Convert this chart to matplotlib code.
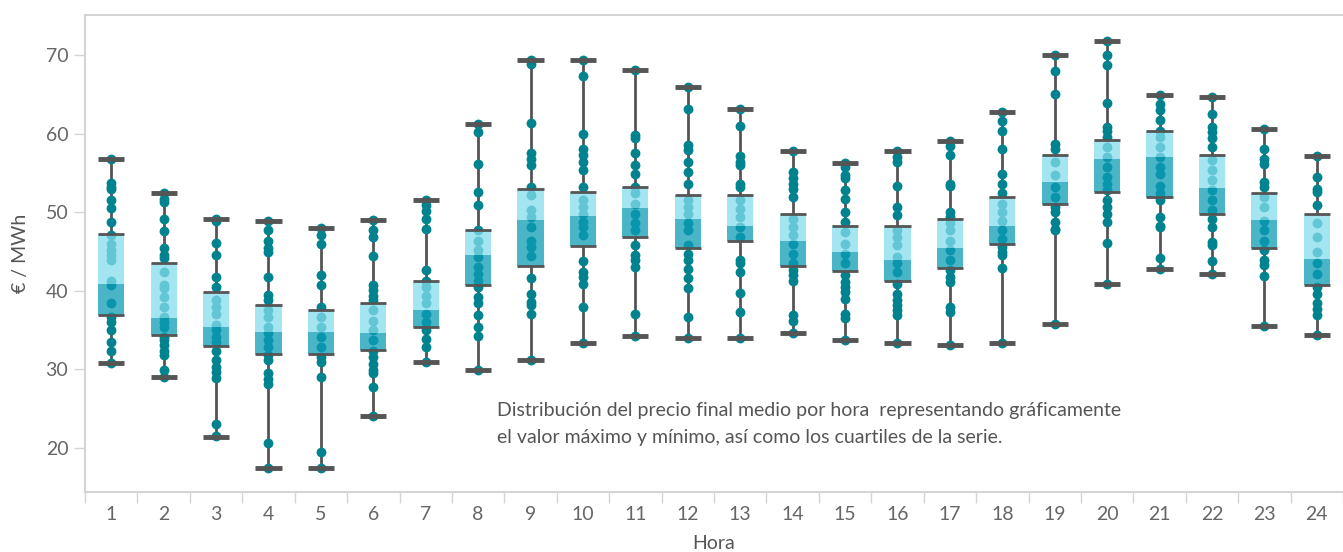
import numpy as np
import matplotlib.pyplot as plt

# ── Datos ───────────────────────────────────────────────────────────────────
horas = list(range(1, 25))

maximo = [56.8, 52.4, 49.2, 48.9, 48.0, 49.0, 51.5, 61.2, 69.4, 69.4, 68.1, 66.0,
          63.2, 57.8, 56.3, 57.8, 59.1, 62.8, 70.0, 71.8, 64.9, 64.7, 60.6, 57.1]
q3 = [47.2, 43.5, 39.8, 38.2, 37.5, 38.5, 41.2, 47.8, 53.0, 52.6, 53.2, 52.2,
      52.2, 49.8, 48.2, 48.2, 49.1, 52.0, 57.3, 59.2, 60.4, 57.3, 52.5, 49.8]
mediana = [40.9, 36.6, 35.4, 34.8, 34.8, 34.6, 37.6, 44.5, 49.0, 49.5, 50.5, 49.2,
           48.3, 46.3, 44.9, 43.9, 45.5, 48.2, 53.9, 56.8, 57.0, 53.1, 49.0, 44.1]
q1 = [36.9, 34.4, 33.0, 32.0, 32.0, 32.5, 35.4, 40.7, 43.2, 45.7, 46.9, 45.5,
      46.3, 43.2, 42.5, 41.3, 42.9, 46.0, 51.1, 52.6, 52.0, 49.8, 45.5, 40.7]
minimo = [30.8, 29.0, 21.4, 17.4, 17.4, 24.1, 30.9, 29.9, 31.2, 33.4, 34.2, 34.0,
          34.0, 34.6, 33.7, 33.4, 33.1, 33.4, 35.8, 40.9, 42.8, 42.1, 35.5, 34.4]

precios = [
    [56.8, 53.7, 53.2, 52.9, 51.5, 50.5, 48.8, 47.1, 46.0, 45.2, 44.5, 43.9, 41.3,
     40.7, 38.4, 36.7, 36.0, 35.0, 33.5, 32.4, 30.8],
    [52.4, 51.7, 51.3, 49.1, 47.6, 45.5, 44.5, 44.2, 42.4, 40.7, 40.3, 39.2, 37.9,
     36.7, 36.0, 35.4, 34.1, 33.7, 33.1, 32.4, 31.8, 29.9, 29.0],
    [49.2, 48.9, 46.1, 44.6, 41.8, 40.5, 38.8, 37.9, 37.1, 35.6, 35.0, 34.1, 33.5,
     32.4, 31.2, 30.3, 29.7, 28.9, 23.0, 21.5],
    [48.9, 47.7, 46.4, 45.4, 44.9, 41.8, 39.5, 38.8, 37.5, 36.7, 35.4, 34.6, 33.7,
     32.8, 31.8, 31.2, 29.5, 28.8, 28.2, 20.6, 17.4],
    [48.0, 47.1, 45.9, 42.0, 40.8, 37.9, 36.7, 35.4, 34.1, 32.8, 31.6, 30.9, 29.0,
     19.5, 17.4],
    [49.0, 47.7, 46.8, 44.4, 40.7, 40.1, 39.4, 38.8, 37.5, 36.2, 35.0, 33.7, 32.4,
     31.6, 30.7, 29.9, 29.5, 27.7, 24.1],
    [51.5, 50.9, 50.1, 49.2, 47.9, 42.6, 41.3, 40.5, 39.4, 38.4, 37.1, 36.0, 35.0,
     33.9, 32.8, 30.9],
    [61.2, 60.2, 56.2, 52.6, 50.9, 47.7, 46.4, 45.2, 44.3, 43.0, 42.2, 41.3, 40.5,
     39.2, 38.4, 36.9, 35.4, 34.3, 29.9],
    [69.4, 68.9, 61.4, 57.5, 56.8, 56.0, 53.2, 52.2, 50.3, 49.4, 48.1, 46.4, 45.6,
     44.4, 41.6, 39.6, 38.6, 38.2, 37.0, 31.2],
    [69.4, 67.4, 59.9, 58.0, 57.3, 56.4, 55.4, 53.2, 51.5, 50.7, 49.8, 48.8, 48.1,
     47.1, 43.8, 42.4, 41.8, 40.9, 37.9, 33.4],
    [68.1, 59.8, 59.4, 57.5, 56.0, 54.9, 53.2, 52.4, 51.1, 49.8, 48.6, 47.7, 45.8,
     44.5, 43.9, 43.0, 37.1, 34.2],
    [66.0, 63.1, 58.5, 57.9, 56.4, 55.1, 53.6, 51.5, 50.7, 49.8, 48.6, 47.7, 45.8,
     44.7, 43.9, 42.8, 41.6, 40.4, 36.7, 34.0],
    [63.2, 61.0, 57.1, 56.4, 56.0, 53.6, 53.2, 51.5, 50.4, 49.4, 48.1, 46.9, 43.9,
     43.5, 42.4, 39.7, 37.3, 34.0],
    [57.8, 55.1, 54.3, 53.6, 53.0, 51.9, 49.2, 48.1, 47.1, 46.0, 44.7, 43.5, 42.6,
     42.0, 41.3, 36.9, 36.2, 34.6],
    [56.3, 55.8, 54.7, 54.3, 52.8, 51.7, 50.0, 48.8, 47.5, 46.0, 44.7, 43.5, 42.0,
     41.1, 40.5, 39.8, 39.0, 37.1, 36.5, 33.7],
    [57.8, 57.0, 56.4, 53.4, 50.7, 49.6, 47.7, 46.9, 45.8, 44.3, 43.5, 42.4, 40.9,
     39.6, 38.8, 38.2, 37.5, 36.9, 33.4],
    [59.1, 58.4, 57.3, 53.6, 53.4, 50.0, 49.4, 48.6, 47.7, 46.4, 45.2, 43.9, 42.6,
     41.8, 41.1, 37.9, 37.3, 33.1],
    [62.8, 61.6, 60.3, 58.1, 54.9, 53.6, 52.4, 51.1, 50.0, 48.9, 47.7, 46.6, 45.6,
     44.9, 44.5, 42.9, 33.4],
    [70.0, 68.0, 65.0, 58.7, 58.1, 56.4, 54.7, 53.2, 51.9, 50.7, 50.0, 48.8, 47.9,
     47.7, 35.8],
    [71.8, 70.0, 68.7, 63.9, 60.9, 60.4, 59.6, 58.3, 57.0, 55.8, 54.5, 53.6, 52.8,
     51.5, 50.7, 49.8, 48.8, 46.1, 40.9],
    [64.9, 63.8, 63.0, 61.7, 60.4, 59.6, 58.3, 57.0, 55.8, 54.9, 53.4, 52.4, 51.5,
     49.4, 48.3, 48.1, 44.2, 42.8],
    [64.7, 62.5, 60.9, 60.2, 59.4, 58.3, 56.6, 55.4, 54.1, 52.8, 51.5, 50.3, 49.2,
     48.1, 46.2, 45.8, 43.8, 42.1],
    [60.6, 58.1, 56.8, 56.2, 53.9, 53.2, 51.9, 50.7, 48.9, 47.7, 46.4, 45.2, 43.9,
     43.3, 41.9, 35.5],
    [57.1, 54.5, 53.0, 52.6, 50.9, 48.6, 46.9, 44.9, 43.5, 42.2, 40.5, 39.6, 38.4,
     37.7, 36.9, 34.4],
]

texto = ("Distribución del precio final medio por hora  representando gráficamente\n"
         "el valor máximo y mínimo, así como los cuartiles de la serie.")

# ── Estilo ──────────────────────────────────────────────────────────────────
plt.rcParams['font.family'] = ['Lato', 'DejaVu Sans']
c_gris = '#555555'
c_punto = '#00838F'
c_bajo = '#0D9CB5'
c_alto = '#84DDED'
c_eje = '#d4d4d4'

fig = plt.figure(figsize=(13.43, 5.52), dpi=100)
ax = fig.add_axes([85 / 1343, 60 / 552, 1 - 85 / 1343, 477 / 552])

x = np.array(horas)
ancho = 0.5

# bigotes
ax.vlines(x, minimo, q1, color=c_gris, lw=2, zorder=1)
ax.vlines(x, q3, maximo, color=c_gris, lw=2, zorder=1)

# puntos
for h, vals in zip(horas, precios):
    ax.scatter([h] * len(vals), vals, s=50, color=c_punto, lw=0, zorder=2)

# cajas
ax.bar(x, np.array(mediana) - np.array(q1), bottom=q1, width=ancho,
       color=c_bajo, alpha=0.75, lw=0, zorder=3)
ax.bar(x, np.array(q3) - np.array(mediana), bottom=mediana, width=ancho,
       color=c_alto, alpha=0.75, lw=0, zorder=3)
ax.hlines(q1, x - ancho / 2, x + ancho / 2, color=c_gris, lw=2, zorder=4)
ax.hlines(q3, x - ancho / 2, x + ancho / 2, color=c_gris, lw=2, zorder=4)

# topes
ax.hlines(maximo, x - ancho / 2, x + ancho / 2, color=c_gris, lw=3.5, zorder=4)
ax.hlines(minimo, x - ancho / 2, x + ancho / 2, color=c_gris, lw=3.5, zorder=4)

ax.text(8.36, 25.8, texto, fontsize=14, color='#555555', va='top', ha='left',
        linespacing=1.65)

# ── Ejes ────────────────────────────────────────────────────────────────────
ax.set_xlim(0.5, 24.36)
ax.set_ylim(14.4, 75.1)
ax.set_yticks([20, 30, 40, 50, 60, 70])
ax.set_xticks(horas)
ax.set_xticks(np.arange(0.5, 25, 1), minor=True)
ax.tick_params(axis='x', which='major', length=0, labelsize=14,
               labelcolor='#666666', pad=10)
ax.tick_params(axis='x', which='minor', length=8, color=c_eje, width=1)
ax.tick_params(axis='y', length=8, color=c_eje, width=1, labelsize=14,
               labelcolor='#666666', pad=4)
for lado in ['left', 'bottom', 'top']:
    ax.spines[lado].set_color(c_eje)
    ax.spines[lado].set_linewidth(1.5)
ax.spines['right'].set_visible(False)

ax.set_xlabel('Hora', fontsize=14, color='#555555', labelpad=9)
ax.set_ylabel('€ / MWh', fontsize=14, color='#555555', labelpad=12)

plt.savefig('out.png', dpi=100)
